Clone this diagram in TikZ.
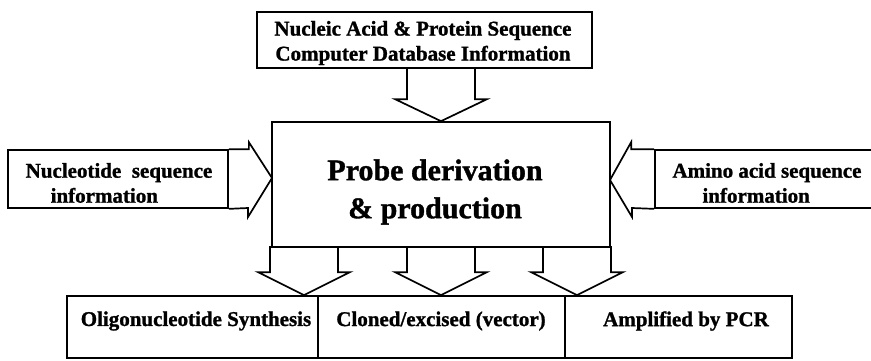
\documentclass[tikz,border=0pt]{standalone}
\usepackage{fontspec}
\setmainfont{Liberation Serif}[BoldFeatures={FakeBold=1.2}]
\usetikzlibrary{calc}
\begin{document}
\begin{tikzpicture}[x=1pt,y=-1pt,line width=1.7pt,line join=miter,
  box/.style={draw,rectangle,inner sep=0pt,font=\fontsize{21.3}{25}\selectfont\bfseries,align=center},
  lbl/.style={inner sep=0pt,font=\fontsize{21}{25}\selectfont\bfseries,align=center},
  blk/.style={draw,line width=1.7pt}]
\useasboundingbox (0,0) rectangle (871,360);
% boxes
\node[box,minimum width=335pt,minimum height=56pt] (db) at (424.5,40) {};
\node[lbl] (tdb) at (423,43)
  {Nucleic Acid \& Protein Sequence\\Computer Database Information};
\node[box,minimum width=338pt,minimum height=125pt] (probe) at (441,184.5) {};
\node[lbl,font=\fontsize{30}{38}\selectfont\bfseries] (tprobe) at (435,192)
  {Probe derivation\\\& production};
\node[box,minimum width=220pt,minimum height=58pt] (nuc) at (118,179) {};
\node[lbl,align=left] (tnuc) at (119,183)
  {Nucleotide\ \ sequence\\\hspace*{25pt}information};
\node[box,minimum width=224pt,minimum height=58pt] (amino) at (767,179) {};
\node[lbl,align=left] (tamino) at (767,183)
  {Amino acid sequence\\\hspace*{30pt}information};
\node[box,minimum width=251pt,minimum height=62pt] (oligo) at (192.5,327) {};
\node[box,minimum width=247pt,minimum height=62pt] (clone) at (441.5,327) {};
\node[box,minimum width=227pt,minimum height=62pt] (pcr) at (678.5,327) {};
\node[lbl] (toligo) at (196,321) {Oligonucleotide Synthesis};
\node[lbl] (tclone) at (441,321) {Cloned/excised (vector)};
\node[lbl] (tpcr) at (686,321) {Amplified by PCR};
% block arrows
\coordinate (tipT) at (probe.north);
\draw[blk] ($(tipT)+(-34,-54)$) -- ++(0,32) -- ++(-12,0) -- (tipT) -- ++(46,-22) -- ++(-12,0) -- ++(0,-32);
\coordinate (tipL) at (272,178);
\draw[blk] (nuc.north east) -- ++(20,0) -- ++(0,-7) -- (tipL) -- ++(-24,39) -- ++(0,-9) -- (nuc.south east);
\coordinate (tipR) at (610,180);
\draw[blk] (amino.north west) -- ++(-23,0) -- ++(0,-7) -- (tipR) -- ++(22,37) -- ++(0,-9) -- (amino.south west);
\coordinate (tipA) at (oligo.north -| 304,0);
\coordinate (tipB) at (clone.north -| 441,0);
\coordinate (tipC) at (pcr.north -| 577,0);
\foreach \t in {tipA,tipB,tipC}{
  \draw[blk] ($(\t)+(-34,-49)$) -- ++(0,26) -- ++(-12,0) -- (\t) -- ++(46,-23) -- ++(-12,0) -- ++(0,-26);
}
\end{tikzpicture}
\end{document}
